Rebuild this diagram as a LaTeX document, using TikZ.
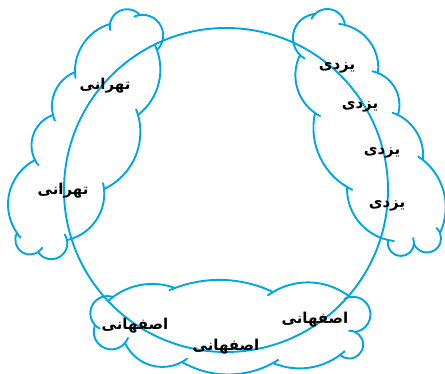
\documentclass[tikz,border=0pt]{standalone}
\usepackage{fontspec}
\newfontfamily\arabicfont[Script=Arabic]{DejaVu Sans}
\TeXXeTstate=1
\definecolor{cloudblue}{RGB}{0,166,226}
\tikzset{
  outline/.style={draw=cloudblue, line width=1.9pt, line cap=round},
  word/.style={font=\arabicfont\bfseries\fontsize{15}{17}\selectfont, inner sep=0pt, text=black},
}
\def\pfHookLen{6}
\newcommand\puff[5]{%
  \pgfmathsetmacro\pfXa{#1}\pgfmathsetmacro\pfYa{374-#2}%
  \pgfmathsetmacro\pfXb{#3}\pgfmathsetmacro\pfYb{374-#4}%
  \pgfmathsetmacro\pfS{#5}%
  \pgfmathsetmacro\pfPhi{atan2(\pfYb-\pfYa,\pfXb-\pfXa)}%
  \pgfmathsetmacro\pfH{0.5*veclen(\pfXb-\pfXa,\pfYb-\pfYa)}%
  \pgfmathsetmacro\pfR{(\pfH*\pfH+\pfS*\pfS)/(2*\pfS)}%
  \pgfmathsetmacro\pfD{\pfR-\pfS}%
  \pgfmathsetmacro\pfCx{(\pfXa+\pfXb)/2-\pfD*cos(\pfPhi+90)}%
  \pgfmathsetmacro\pfCy{(\pfYa+\pfYb)/2-\pfD*sin(\pfPhi+90)}%
  \pgfmathsetmacro\pfAl{atan2(\pfH,\pfD)}%
  \pgfmathsetmacro\pfHook{\pfHookLen/\pfR*57.2958}%
  \pgfmathsetmacro\pfStart{\pfPhi+90+\pfAl+\pfHook}%
  \pgfmathsetmacro\pfEnd{\pfPhi+90-\pfAl}%
  \draw[outline] (\pfCx pt,\pfCy pt) ++(\pfStart:\pfR pt) arc[start angle=\pfStart, end angle=\pfEnd, radius=\pfR pt];%
}
\begin{document}
\begin{tikzpicture}
\useasboundingbox (0pt,0pt) rectangle (445pt,374pt);
% big circle
\coordinate (ringc) at (226pt,184pt);
\draw[outline] (ringc) circle[radius=162pt];
% left cloud
\puff{110}{24}{140}{15}{10}
\puff{140}{15}{157}{50}{14}
\puff{157}{50}{138}{115}{11}
\puff{138}{115}{104}{189}{15}
\puff{104}{189}{67}{240}{12}
\puff{67}{240}{38}{252}{13}
\puff{38}{252}{17}{233}{11}
\puff{17}{233}{35}{160}{17}
\puff{35}{160}{53}{115}{11}
\puff{53}{115}{75}{72}{9}
\puff{75}{72}{110}{24}{10}
% right cloud
\puff{300}{55}{315}{14}{14}
\puff{315}{14}{345}{25}{10}
\puff{345}{25}{378}{73}{11}
\puff{378}{73}{398}{115}{9}
\puff{398}{115}{423}{160}{8}
\puff{423}{160}{440}{233}{13}
\puff{440}{233}{414}{244}{14}
\puff{414}{244}{388}{240}{14}
\puff{388}{240}{347}{187}{12}
\puff{347}{187}{315}{113}{13}
\puff{315}{113}{300}{55}{11}
% bottom cloud
\puff{113}{297}{175}{288}{8}
\puff{175}{288}{273}{292}{10}
\puff{273}{292}{350}{297}{12}
\puff{350}{297}{355}{332}{18}
\puff{355}{332}{340}{355}{16}
\puff{340}{355}{273}{363}{9}
\puff{273}{363}{182}{362}{12}
\puff{182}{362}{125}{343}{13}
\puff{125}{343}{95}{325}{15}
\puff{95}{325}{113}{297}{13}
% labels
\node[word] (teh1) at (105pt,288pt) {\beginR تهرانی\endR};
\node[word] (teh2) at (63pt,183pt) {\beginR تهرانی\endR};
\node[word] (yaz1) at (337pt,306pt) {\beginR یزدی\endR};
\node[word] (yaz2) at (360pt,267pt) {\beginR یزدی\endR};
\node[word] (yaz3) at (382pt,221pt) {\beginR یزدی\endR};
\node[word] (yaz4) at (387pt,168pt) {\beginR یزدی\endR};
\node[word] (esf1) at (135pt,48pt) {\beginR اصفهانی\endR};
\node[word] (esf2) at (315pt,54pt) {\beginR اصفهانی\endR};
\node[word] (esf3) at (226pt,27pt) {\beginR اصفهانی\endR};
\end{tikzpicture}
\end{document}
